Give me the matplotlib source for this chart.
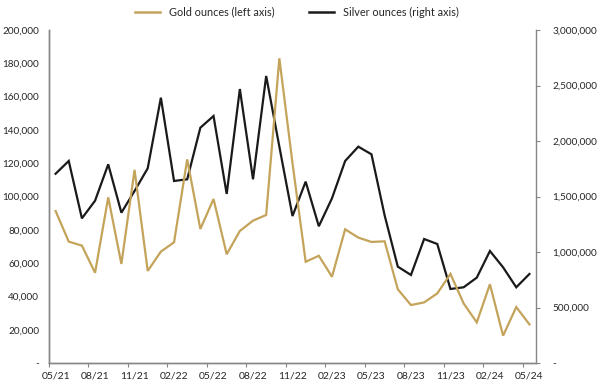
import matplotlib
matplotlib.use("Agg")
import matplotlib.pyplot as plt
from matplotlib.ticker import FixedLocator, FuncFormatter
from matplotlib.lines import Line2D

months = ["05/21", "06/21", "07/21", "08/21", "09/21", "10/21", "11/21", "12/21",
          "01/22", "02/22", "03/22", "04/22", "05/22", "06/22", "07/22", "08/22",
          "09/22", "10/22", "11/22", "12/22", "01/23", "02/23", "03/23", "04/23",
          "05/23", "06/23", "07/23", "08/23", "09/23", "10/23", "11/23", "12/23",
          "01/24", "02/24", "03/24", "04/24", "05/24"]

gold_oz = [91300, 72900, 70500, 54200, 99500, 59500, 116000, 55300,
           66900, 72500, 122300, 80500, 98500, 65300, 79300, 85500,
           88900, 183000, 120000, 60800, 64400, 51800, 80300, 75300,
           72700, 73100, 44300, 34800, 36400, 41800, 53500, 35800,
           24400, 47300, 16400, 33600, 23200]

silver_oz = [1705000, 1820000, 1303000, 1462000, 1790000, 1354000, 1550000, 1754000,
             2390000, 1640000, 1655000, 2120000, 2225000, 1523000, 2468000, 1655000,
             2586000, 1950000, 1324000, 1634000, 1232000, 1484000, 1820000, 1949000,
             1880000, 1330000, 868000, 793000, 1117000, 1072000, 667000, 682000,
             769000, 1009000, 862000, 682000, 802000]

left_ticks = [0, 20000, 40000, 60000, 80000, 100000, 120000, 140000, 160000, 180000, 200000]
right_ticks = [0, 500000, 1000000, 1500000, 2000000, 2500000, 3000000]

GOLD = "#C4A35A"
SILVER = "#1A1A1A"
SPINE = "#868686"
TXT = "#262626"

plt.rcParams["font.family"] = ["Lato", "DejaVu Sans"]

fig = plt.figure(figsize=(5.97, 3.83), dpi=100)
ax = fig.add_axes([49 / 597, 1 - 363 / 383, (536 - 49) / 597, (363 - 30) / 383])
ax2 = ax.twinx()

x = list(range(len(months)))
ax2.plot(x, silver_oz, color=SILVER, lw=1.6, solid_joinstyle="miter")
ax.plot(x, gold_oz, color=GOLD, lw=1.6, solid_joinstyle="miter")
ax.set_zorder(ax2.get_zorder() + 1)
ax.patch.set_visible(False)

ax.set_xlim(-0.5, len(months) - 0.5)
ax.set_ylim(0, 200000)
ax2.set_ylim(0, 3000000)

fmt = FuncFormatter(lambda v, p: "-" if v == 0 else f"{int(v):,}")
ax.yaxis.set_major_locator(FixedLocator(left_ticks))
ax.yaxis.set_major_formatter(fmt)
ax2.yaxis.set_major_locator(FixedLocator(right_ticks))
ax2.yaxis.set_major_formatter(fmt)

# x axis: tick marks between categories, labels on every 3rd category
ax.xaxis.set_major_locator(FixedLocator([i - 0.5 for i in range(0, len(months), 3)]))
ax.xaxis.set_major_formatter(FuncFormatter(lambda v, p: ""))
ax.xaxis.set_minor_locator(FixedLocator(list(range(0, len(months), 3))))
ax.xaxis.set_minor_formatter(FuncFormatter(lambda v, p: months[int(round(v))]))
ax.tick_params(axis="x", which="major", length=3, width=0.8, color=SPINE, direction="out")
ax.tick_params(axis="x", which="minor", length=0, labelsize=7.5, colors=TXT, pad=6)
ax.tick_params(axis="y", length=0, labelsize=7.2, colors=TXT, pad=7)
ax2.tick_params(axis="y", length=3, width=0.8, color=SPINE, labelsize=7.2, labelcolor=TXT, pad=9)

for a in (ax, ax2):
    a.spines["top"].set_visible(False)
    for s in ("left", "right", "bottom"):
        a.spines[s].set_color(SPINE)
        a.spines[s].set_linewidth(1.0)
ax.spines["right"].set_visible(False)

handles = [Line2D([], [], color=GOLD, lw=1.8), Line2D([], [], color=SILVER, lw=1.8)]
fig.legend(handles, ["Gold ounces (left axis)", "Silver ounces (right axis)"],
           loc="center", bbox_to_anchor=(0.497, 0.968), ncol=2, frameon=False,
           fontsize=7.8, handlelength=2.3, columnspacing=3.2, handletextpad=0.8,
           labelcolor=TXT)

fig.savefig("out.png", dpi=100)
